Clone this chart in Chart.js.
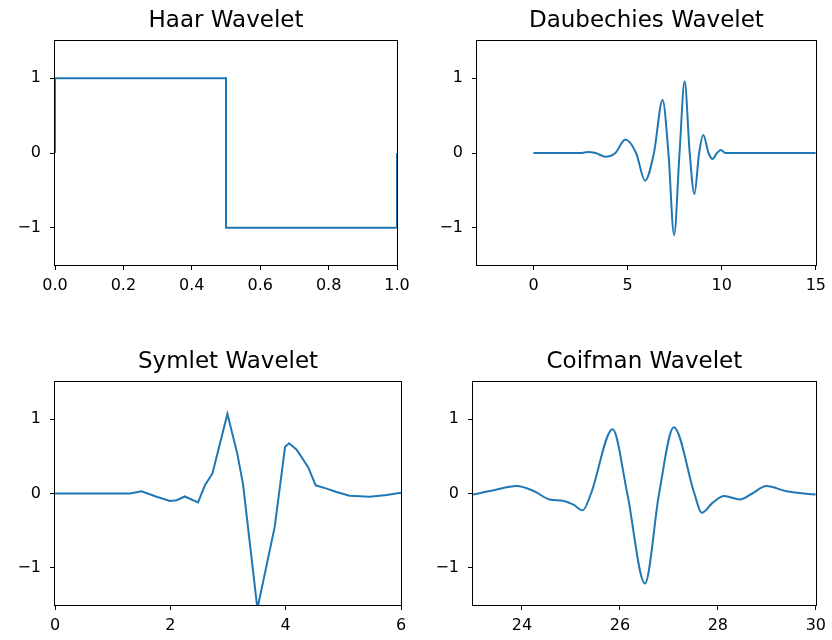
<!DOCTYPE html>
<html>
<head>
<meta charset="utf-8">
<script src="https://cdn.jsdelivr.net/npm/chart.js@4/dist/chart.umd.min.js"></script>
<style>
body { margin: 0; background: #fff; }
#wrap { position: relative; width: 832px; height: 640px; }
#wrap canvas { position: absolute; }
</style>
</head>
<body>
<div id="wrap">
  <canvas id="haar" width="416" height="300" style="left:0;top:0"></canvas>
  <canvas id="db" width="416" height="300" style="left:416px;top:0"></canvas>
  <canvas id="sym" width="416" height="300" style="left:0;top:340px"></canvas>
  <canvas id="coif" width="416" height="300" style="left:416px;top:340px"></canvas>
</div>
<script>
// values
var yTicks = [-1, 0, 1];

var haarX = [0, 0, 0.5, 0.5, 1, 1];
var haarY = [0, 1, 1, -1, -1, 0];
var haarTicks = [0, 0.2, 0.4, 0.6, 0.8, 1.0];

var dbX = [0, 2.5, 2.9, 3.3, 3.84, 4.35, 4.88, 5.45, 5.93, 6.4, 6.86, 7.17, 7.47, 7.76, 8.03, 8.3, 8.55, 8.8, 9.02, 9.3, 9.51, 9.75, 9.95, 10.2, 10.4, 15];
var dbY = [0, 0, 0.015, 0, -0.05, 0, 0.18, 0, -0.37, 0, 0.71, 0, -1.10, 0, 0.96, 0, -0.55, 0, 0.24, 0, -0.08, 0, 0.04, 0, 0, 0];
var dbTicks = [0, 5, 10, 15];

var symX = [0, 1.30, 1.5, 1.75, 1.99, 2.11, 2.25, 2.48, 2.60, 2.73, 2.99, 3.16, 3.26, 3.51, 3.81, 3.99, 4.06, 4.19, 4.39, 4.52, 4.71, 4.88, 5.11, 5.46, 5.75, 6];
var symY = [0, 0, 0.03, -0.04, -0.10, -0.09, -0.04, -0.12, 0.11, 0.27, 1.07, 0.54, 0.13, -1.55, -0.45, 0.63, 0.675, 0.59, 0.355, 0.11, 0.065, 0.02, -0.03, -0.045, -0.02, 0.01];
var symTicks = [0, 2, 4, 6];

var coifX = [23, 23.4, 23.89, 24.25, 24.56, 24.85, 25.05, 25.24, 25.41, 25.85, 26.15, 26.51, 26.8, 27.1, 27.52, 27.67, 27.9, 28.13, 28.45, 28.7, 28.99, 29.4, 30];
var coifY = [-0.015, 0.04, 0.1, 0.03, -0.08, -0.1, -0.15, -0.225, 0, 0.865, 0, -1.21, 0, 0.89, 0, -0.26, -0.12, -0.035, -0.08, 0, 0.1, 0.03, -0.015];
var coifTicks = [24, 26, 28, 30];

Chart.defaults.font.family = 'DejaVu Sans';
Chart.defaults.color = '#000';

// matplotlib style box around the plot area
var frame = {
    id: 'frame',
    afterDraw: function(chart) {
        var a = chart.chartArea, c = chart.ctx;
        c.save();
        c.strokeStyle = '#000';
        c.lineWidth = 1;
        c.strokeRect(Math.round(a.left) - 0.5, Math.round(a.top) - 0.5,
                     Math.round(a.right - a.left) + 1, Math.round(a.bottom - a.top) + 1);
        c.restore();
    }
};

function minus(v) {
    return v < 0 ? '\u2212' + Math.abs(v) : String(v);
}

function makeChart(id, title, xs, ys, o) {
    var pts = xs.map(function(x, i) { return {x: x, y: ys[i]}; });
    var ds = {
        data: pts,
        borderColor: '#1f77b4',
        borderWidth: 2,
        pointRadius: 0,
        fill: false,
        tension: 0
    };
    if (o.smooth) ds.cubicInterpolationMode = 'monotone';
    return new Chart(document.getElementById(id), {
        type: 'line',
        data: { datasets: [ds] },
        plugins: [frame],
        options: {
            responsive: false,
            animation: false,
            layout: { padding: { top: 0, right: o.padR, bottom: 0, left: 0 } },
            plugins: {
                legend: { display: false },
                tooltip: { enabled: false },
                title: {
                    display: true,
                    fullSize: false,
                    text: title,
                    color: '#000',
                    font: { size: 23, weight: 'normal' },
                    padding: { top: o.titleTop, bottom: o.titleBottom }
                }
            },
            scales: {
                x: {
                    type: 'linear',
                    min: o.xMin,
                    max: o.xMax,
                    border: { display: false },
                    grid: { display: true, drawOnChartArea: false, drawTicks: true, tickLength: 5, color: '#000' },
                    afterBuildTicks: function(s) { s.ticks = o.xTicks.map(function(v) { return {value: v}; }); },
                    afterFit: function(s) { s.height = 35; },
                    ticks: {
                        autoSkip: false,
                        maxRotation: 0,
                        padding: 6,
                        font: { size: 16 },
                        callback: function(v) { return o.fmt ? o.fmt(v) : minus(v); }
                    }
                },
                y: {
                    type: 'linear',
                    min: -1.5,
                    max: 1.5,
                    border: { display: false },
                    grid: { display: true, drawOnChartArea: false, drawTicks: true, tickLength: 5, color: '#000' },
                    afterBuildTicks: function(s) { s.ticks = yTicks.map(function(v) { return {value: v}; }); },
                    afterFit: function(s) { s.width = o.yW; },
                    ticks: { padding: 9, font: { size: 16 }, callback: minus }
                }
            }
        }
    });
}

var haarChart = makeChart('haar', 'Haar Wavelet', haarX, haarY, {
    xMin: 0, xMax: 1, xTicks: haarTicks, yW: 55, padR: 19, titleTop: 7.2, titleBottom: 6.2,
    fmt: function(v) { return v.toFixed(1); }
});
var dbChart = makeChart('db', 'Daubechies Wavelet', dbX, dbY, {
    xMin: -3, xMax: 15, xTicks: dbTicks, yW: 61, padR: 13, titleTop: 7.2, titleBottom: 6.2, smooth: true
});
var symChart = makeChart('sym', 'Symlet Wavelet', symX, symY, {
    xMin: 0, xMax: 6, xTicks: symTicks, yW: 55, padR: 15, titleTop: 8.2, titleBottom: 6.2
});
var coifChart = makeChart('coif', 'Coifman Wavelet', coifX, coifY, {
    xMin: 23, xMax: 30, xTicks: coifTicks, yW: 57, padR: 13, titleTop: 8.2, titleBottom: 6.2, smooth: true
});
</script>
</body>
</html>
